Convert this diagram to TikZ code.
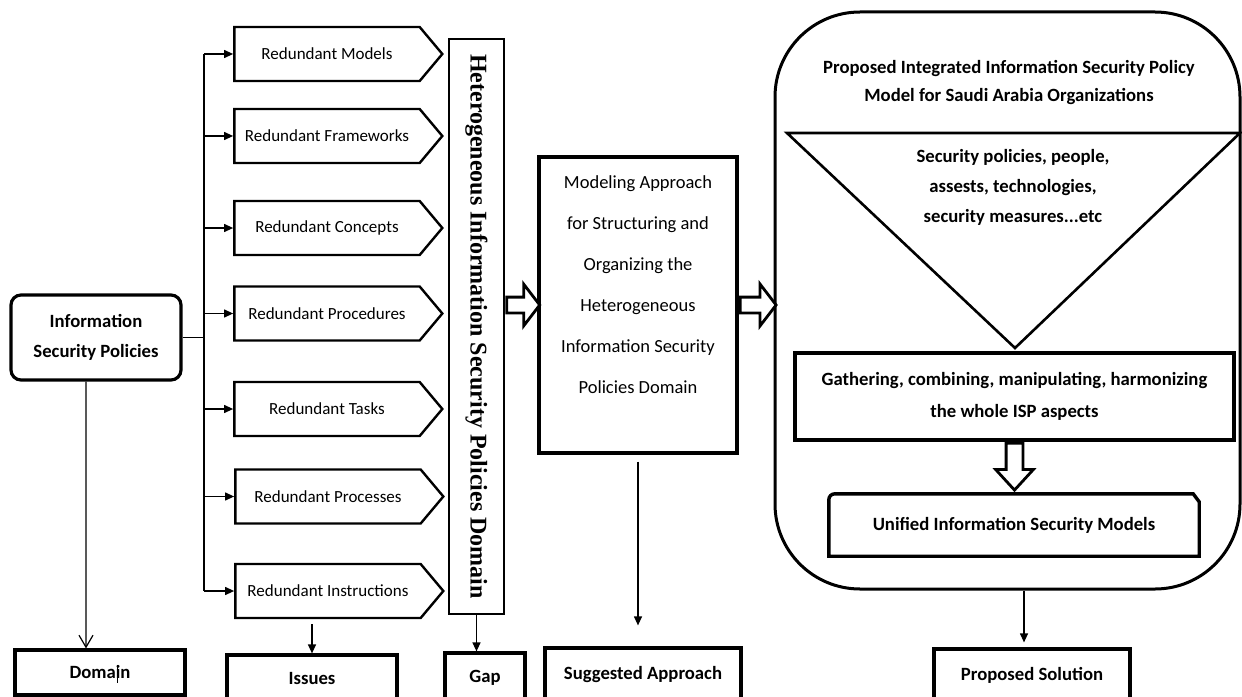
\documentclass[tikz,border=0pt]{standalone}
\usepackage{fontspec}
\setmainfont{Carlito}
\newfontfamily\hetfont{Liberation Serif}
\usepackage{tikz}
\usetikzlibrary{arrows.meta,shapes.symbols,shapes.arrows,positioning}

\begin{document}
\begin{tikzpicture}[x=1bp,y=-1bp,>={Triangle[length=9bp,width=8bp]},
  every node/.style={inner sep=0pt,align=center},
  box/.style={draw,line width=3.2bp,font=\fontsize{18.7bp}{22bp}\selectfont\bfseries},
  chev/.style={draw,signal,signal to=east,signal pointer angle=100,line width=2.4bp,
    minimum width=208bp,minimum height=54bp,font=\fontsize{17bp}{20bp}\selectfont},
  link/.style={->,line width=1.2bp},
  fat/.style={single arrow,draw,fill=white,line width=2.8bp,inner xsep=0pt,inner ysep=6.5bp,
    single arrow head extend=13bp,single arrow tip angle=105}]

\useasboundingbox (0,0) rectangle (1242,697);

% left side
\node[box,rounded corners=10bp,minimum width=170bp,minimum height=85bp,
  font=\fontsize{18.7bp}{30bp}\selectfont\bfseries] (isp) at (96,337.5) {Information\\Security Policies};

\node[chev] (m1) at (327,54)    {Redundant Models};
\node[chev] (m2) at (327,136)   {Redundant Frameworks};
\node[chev] (m3) at (327,228)   {Redundant Concepts};
\node[chev] (m4) at (327,313.5) {Redundant Procedures};
\node[chev] (m5) at (327,409)   {Redundant Tasks};
\node[chev] (m6) at (328,496.5) {Redundant Processes};
\node[chev] (m7) at (328,591)   {Redundant Instructions};

\node[draw,line width=2.6bp,minimum width=55bp,minimum height=575bp] (het) at (476.5,326.5)
  {\rotatebox{-90}{\hetfont\bfseries\fontsize{24bp}{28bp}\selectfont Heterogeneous Information Security Policies Domain}};

\node[box,line width=3.4bp,minimum width=198bp,minimum height=296bp,
  font=\fontsize{18.5bp}{41bp}\selectfont] (mod) at (638,305)
  {Modeling Approach\\for Structuring and\\Organizing the\\Heterogeneous\\Information Security\\Policies Domain\\\mbox{}};

% bottom row
\node[box,minimum width=170bp,minimum height=45bp] (dom) at (100,672.5) {Domain};
\node[box,minimum width=170bp,minimum height=47bp] (iss) at (312,678.5) {Issues};
\node[box,minimum width=80bp,minimum height=49bp]  (gap) at (485,677.5) {Gap};
\node[box,minimum width=196bp,minimum height=54bp] (sug) at (643,675) {Suggested Approach};
\node[box,minimum width=196bp,minimum height=53bp] (sol) at (1032,675.5) {Proposed Solution};

% proposed model
\node[draw,line width=3bp,rounded corners=85bp,minimum width=465bp,minimum height=577bp] (prop) at (1007.5,300.5) {};
\node[font=\fontsize{18.7bp}{28bp}\selectfont\bfseries] (ptitle) at (1009,83)
  {Proposed Integrated Information Security Policy\\Model for Saudi Arabia Organizations};

\coordinate (t1) at (787,133);
\coordinate (t2) at (1240,133);
\coordinate (t3) at (1015,348);
\draw[line width=2.6bp,line join=miter] (t1) -- (t2) -- (t3) -- cycle;
\node[font=\fontsize{18.7bp}{30bp}\selectfont\bfseries] (tri) at (1013,187)
  {Security policies, people,\\assests, technologies,\\security measures...etc};

\node[box,line width=3.4bp,minimum width=439bp,minimum height=87bp,
  font=\fontsize{18.7bp}{32bp}\selectfont\bfseries] (gath) at (1014.5,396.5)
  {Gathering, combining, manipulating, harmonizing\\the whole ISP aspects};
\node[minimum width=370bp,minimum height=62bp,font=\fontsize{18.7bp}{22bp}\selectfont\bfseries] (uni) at (1014,525)
  {Unified Information Security Models};
\draw[line width=3.4bp] (uni.south west) [rounded corners=6bp] -- (uni.north west) [sharp corners]
  -- ([xshift=-6bp]uni.north east) -- ([yshift=-8bp]uni.north east) -- (uni.south east) -- cycle;

% connectors
\coordinate (sp) at (204,337.5);
\draw[line width=1.2bp] (isp.east) -- (sp);
\draw[line width=1.2bp] (sp|-m1.west) -- (sp|-m7.west);
\draw[link] (sp|-m1.west) -- (m1.west);
\draw[link] (sp|-m2.west) -- (m2.west);
\draw[link] (sp|-m3.west) -- (m3.west);
\draw[link] (sp|-m4.west) -- (m4.west);
\draw[link] (sp|-m5.west) -- (m5.west);
\draw[link] (sp|-m6.west) -- (m6.west);
\draw[link] (sp|-m7.west) -- (m7.west);

\draw[line width=1.2bp,-{Straight Barb[length=12bp,width=14bp]}] ([xshift=-10bp]isp.south) -- ([xshift=-14bp]dom.north);
\draw[line width=0.8bp] ([xshift=17bp,yshift=7.5bp]dom.center) -- ([xshift=17bp,yshift=-10.5bp]dom.center);
\draw[link,shorten <=5bp] (iss.north|-m7.south) -- (iss.north);
\draw[link] (het.south) -- (het.south|-gap.north);
\draw[link,shorten <=7bp,shorten >=21bp] (mod.south) -- (mod.south|-sug.north);
\draw[link,shorten >=5bp] ([xshift=-8bp]sol.north|-prop.south) -- ([xshift=-8bp]sol.north);

\node[fat,minimum height=33bp,anchor=tail] (a1) at (het.east|-mod.center) {};
\node[fat,minimum height=36bp,anchor=tail] (a2) at (mod.east) {};
\node[fat,minimum height=47bp,anchor=tail,rotate=-90,inner ysep=7bp,single arrow head extend=10.5bp,
  single arrow tip angle=85] (a3) at (gath.south) {};

\end{tikzpicture}
\end{document}
